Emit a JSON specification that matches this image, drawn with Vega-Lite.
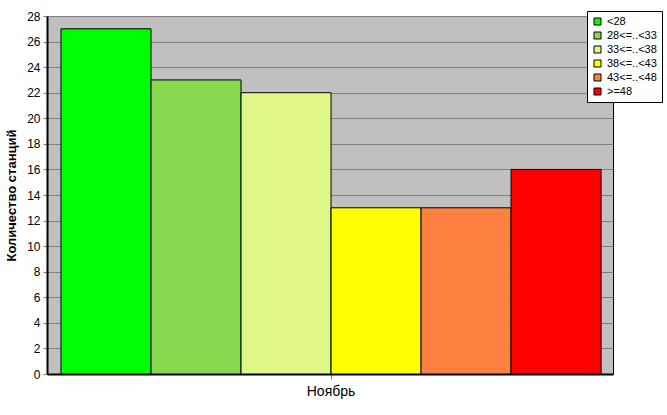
{
  "$schema": "https://vega.github.io/schema/vega-lite/v6.json",
  "width": 566,
  "height": 358,
  "autosize": {"type": "none"},
  "padding": {"left": 47, "top": 16, "right": 54, "bottom": 41},
  "background": "white",
  "config": {
    "view": {"fill": "#C0C0C0", "stroke": "black", "strokeWidth": 1},
    "font": "Liberation Sans"
  },
  "data": {
    "values": [
      {"month": "Ноябрь", "cat": "<28", "count": 27},
      {"month": "Ноябрь", "cat": "28<=..<33", "count": 23},
      {"month": "Ноябрь", "cat": "33<=..<38", "count": 22},
      {"month": "Ноябрь", "cat": "38<=..<43", "count": 13},
      {"month": "Ноябрь", "cat": "43<=..<48", "count": 13},
      {"month": "Ноябрь", "cat": ">=48", "count": 16}
    ]
  },
  "mark": {"type": "bar", "stroke": "black", "strokeWidth": 1},
  "encoding": {
    "x": {
      "field": "month",
      "type": "nominal",
      "scale": {"paddingInner": 0, "paddingOuter": 0.024, "align": 0.54},
      "axis": {
        "title": null,
        "labelAngle": 0,
        "labelFontSize": 14,
        "labelColor": "black",
        "domainColor": "black",
        "domainWidth": 2,
        "tickColor": "#808080",
        "tickSize": 5,
        "labelPadding": 5
      }
    },
    "xOffset": {
      "field": "cat",
      "type": "nominal",
      "sort": ["<28", "28<=..<33", "33<=..<38", "38<=..<43", "43<=..<48", ">=48"],
      "scale": {"paddingInner": 0, "paddingOuter": 0}
    },
    "y": {
      "field": "count",
      "type": "quantitative",
      "scale": {"domain": [0, 28], "nice": false},
      "axis": {
        "values": [0, 2, 4, 6, 8, 10, 12, 14, 16, 18, 20, 22, 24, 26, 28],
        "title": "Количество станций",
        "titleFontSize": 13,
        "titleFontWeight": "bold",
        "titleColor": "black",
        "titlePadding": 8,
        "labelFontSize": 12,
        "labelColor": "black",
        "labelPadding": 3,
        "gridColor": "#808080",
        "gridOpacity": 1,
        "gridWidth": 1,
        "tickColor": "#808080",
        "tickSize": 4,
        "domainColor": "black",
        "domainWidth": 2
      }
    },
    "color": {
      "field": "cat",
      "type": "nominal",
      "sort": ["<28", "28<=..<33", "33<=..<38", "38<=..<43", "43<=..<48", ">=48"],
      "scale": {
        "domain": ["<28", "28<=..<33", "33<=..<38", "38<=..<43", "43<=..<48", ">=48"],
        "range": ["#00FF00", "#88D850", "#E0F888", "#FFFF00", "#FF8040", "#FF0000"]
      },
      "legend": {
        "title": null,
        "orient": "none",
        "legendX": 540,
        "legendY": -5,
        "fillColor": "white",
        "strokeColor": "black",
        "padding": 5,
        "symbolType": "square",
        "symbolSize": 49,
        "symbolStrokeColor": "black",
        "symbolStrokeWidth": 1,
        "symbolOpacity": 1,
        "labelFontSize": 11,
        "labelColor": "black",
        "labelOffset": 4,
        "rowPadding": 2
      }
    }
  }
}
